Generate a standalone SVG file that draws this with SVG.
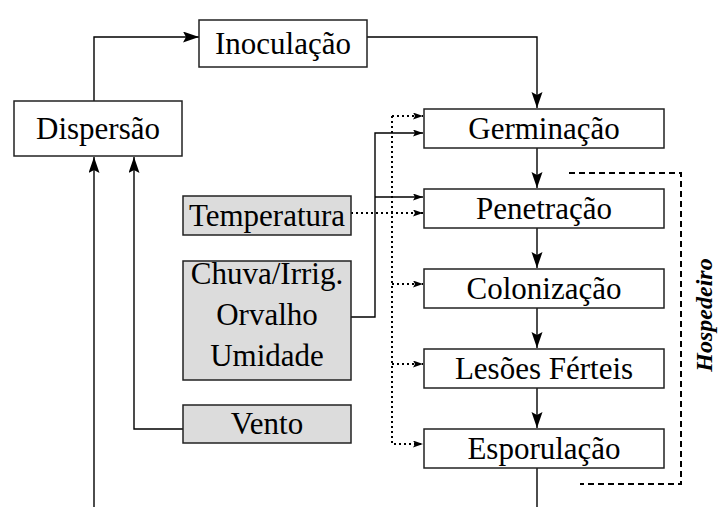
<svg xmlns="http://www.w3.org/2000/svg" width="723" height="507" viewBox="0 0 723 507">
<style>
.box{fill:#fff;stroke:#222;stroke-width:1.5}
.gbox{fill:#dcdcdc;stroke:#222;stroke-width:1.5}
.t{font-family:"Liberation Serif","Times New Roman",Times,serif;font-size:31px;text-anchor:middle;fill:#000}
.ln{fill:none;stroke:#000;stroke-width:1.4}
.dot{fill:none;stroke:#000;stroke-width:2;stroke-dasharray:2 3}
.dash{fill:none;stroke:#000;stroke-width:2;stroke-dasharray:6 4}
.h{font-family:"Liberation Serif","Times New Roman",Times,serif;font-size:24px;font-weight:bold;font-style:italic;text-anchor:middle}
</style>
<defs>
<marker id="big" markerUnits="userSpaceOnUse" markerWidth="17" markerHeight="12" refX="16" refY="5.5" orient="auto">
<path d="M0,0 L16,5.5 L0,11 L3,5.5 z" fill="#000"/>
</marker>
<marker id="sm" markerUnits="userSpaceOnUse" markerWidth="11" markerHeight="8" refX="10" refY="3.5" orient="auto">
<path d="M0,0 L10,3.5 L0,7 L2,3.5 z" fill="#000"/>
</marker>
</defs>
<g id="connectors">
<path class="ln" d="M94,101 V37 H199" marker-end="url(#big)"/>
<path class="ln" d="M367,37 H537 V108" marker-end="url(#big)"/>
<path class="ln" d="M537,148 V188" marker-end="url(#big)"/>
<path class="ln" d="M537,228 V268" marker-end="url(#big)"/>
<path class="ln" d="M537,308 V348" marker-end="url(#big)"/>
<path class="ln" d="M537,388 V428" marker-end="url(#big)"/>
<path class="ln" d="M537,468 V507"/>
<path class="ln" d="M94,507 V157" marker-end="url(#big)"/>
<path class="ln" d="M183,429 H134 V157" marker-end="url(#big)"/>
<path class="ln" d="M351,317 H375 V133 H423" marker-end="url(#sm)"/>
<path class="ln" d="M375,197 H423" marker-end="url(#sm)"/>
<path class="dot" d="M392,116 H423" marker-end="url(#sm)"/>
<path class="dot" d="M392,116 V444 H423" marker-end="url(#sm)"/>
<path class="dot" d="M351,213 H423" marker-end="url(#sm)"/>
<path class="dot" d="M392,284 H423" marker-end="url(#sm)"/>
<path class="dot" d="M392,364 H423" marker-end="url(#sm)"/>
<path class="dash" d="M569,173 H681 V484 H580"/>
</g>
<g id="inoculacao"><rect class="box" x="199" y="20" width="168" height="47"/><text class="t" x="283" y="54">Inoculação</text></g>
<g id="dispersao"><rect class="box" x="14" y="101" width="168" height="55"/><text class="t" x="98" y="139">Dispersão</text></g>
<g id="germinacao"><rect class="box" x="424" y="109" width="240" height="39"/><text class="t" x="544" y="139">Germinação</text></g>
<g id="penetracao"><rect class="box" x="424" y="189" width="240" height="39"/><text class="t" x="544" y="219">Penetração</text></g>
<g id="colonizacao"><rect class="box" x="424" y="269" width="240" height="39"/><text class="t" x="544" y="299">Colonização</text></g>
<g id="lesoes"><rect class="box" x="424" y="349" width="240" height="39"/><text class="t" x="544" y="379">Lesões Férteis</text></g>
<g id="esporulacao"><rect class="box" x="424" y="429" width="240" height="39"/><text class="t" x="544" y="459">Esporulação</text></g>
<g id="temperatura"><rect class="gbox" x="183" y="196" width="168" height="39"/><text class="t" x="267" y="226">Temperatura</text></g>
<g id="chuva"><rect class="gbox" x="183" y="261" width="168" height="119"/><text class="t" x="267" y="284">Chuva/Irrig.</text><text class="t" x="267" y="325">Orvalho</text><text class="t" x="267" y="366">Umidade</text></g>
<g id="vento"><rect class="gbox" x="183" y="405" width="168" height="38"/><text class="t" x="267" y="434">Vento</text></g>
<g id="hospedeiro"><text class="h" transform="translate(712,315) rotate(-90)">Hospedeiro</text></g>
</svg>
